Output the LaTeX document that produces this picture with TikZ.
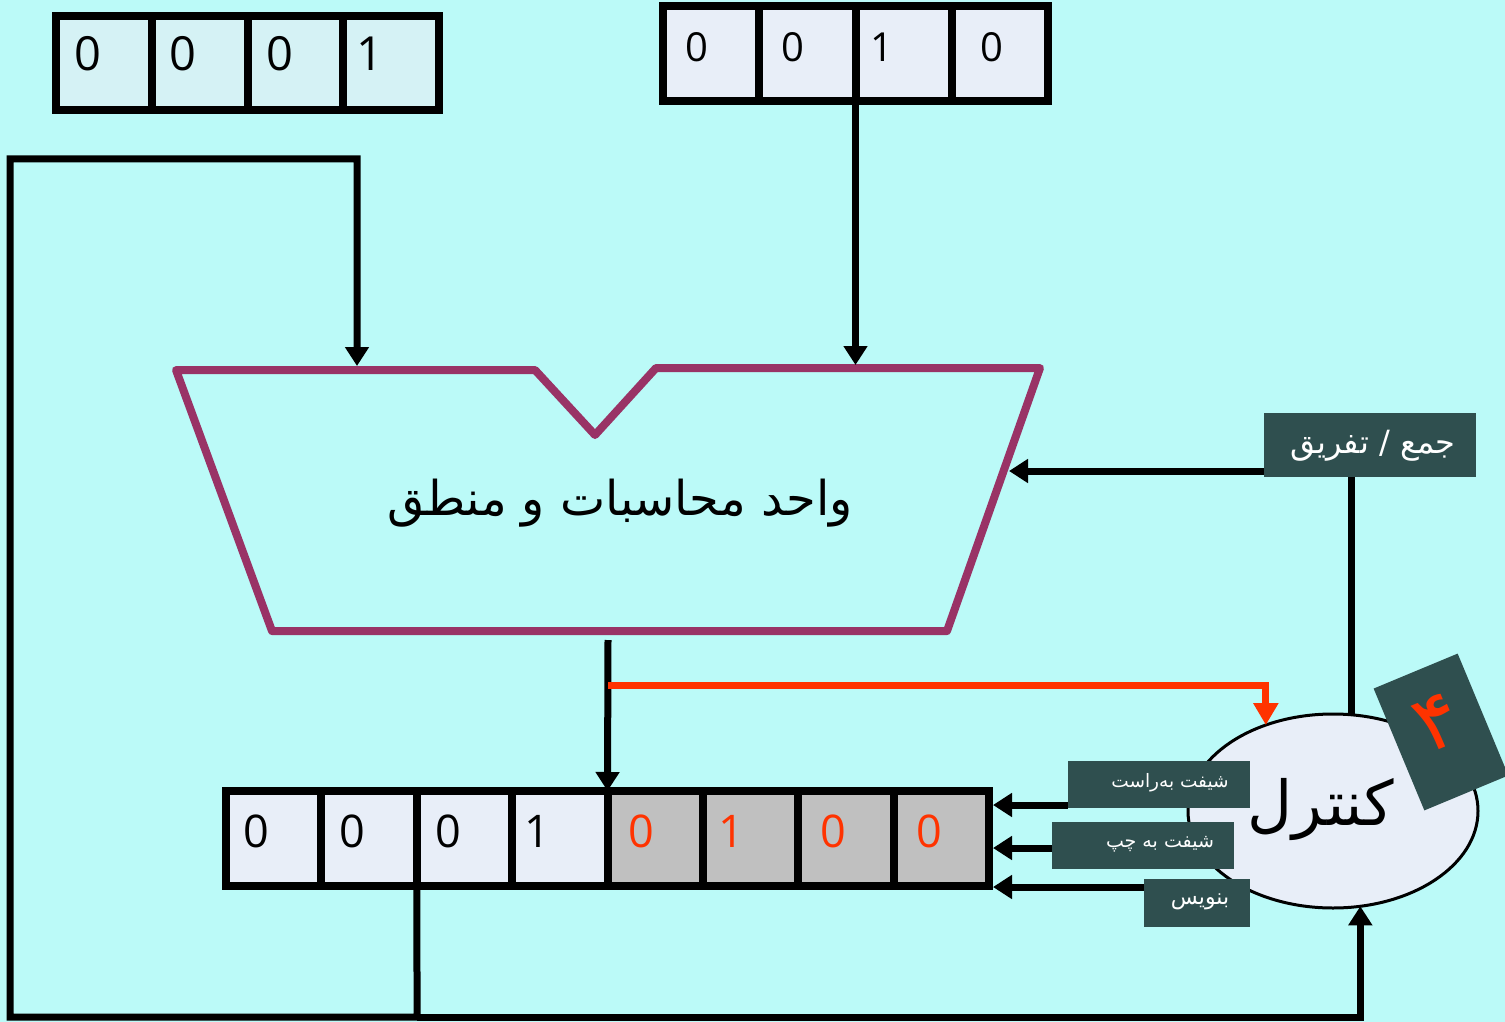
\documentclass[tikz,border=0pt]{standalone}
\usepackage{fontspec}
\usetikzlibrary{arrows.meta,shapes.geometric}
\setmainfont{Open Sans}
\newfontfamily\fa[Script=Arabic]{DejaVu Sans}
\TeXXeTstate=1
\definecolor{bgc}{RGB}{187,250,248}
\definecolor{cellA}{RGB}{213,242,245}
\definecolor{cellB}{RGB}{232,238,248}
\definecolor{cellG}{RGB}{192,192,192}
\definecolor{aluc}{RGB}{153,51,102}
\definecolor{redc}{RGB}{255,51,0}
\definecolor{slate}{RGB}{47,79,79}
\begin{document}
\begin{tikzpicture}[x=1pt,y=-1pt,
  line/.style={line width=7pt,line join=miter},
  wire/.style={line width=7pt,line join=miter,-{Triangle[width=23pt,length=19pt]}},
  redwire/.style={line width=7pt,draw=redc,-{Triangle[width=24pt,length=22pt]}},
  tlcell/.style={draw=black,line width=8pt,fill=cellA,minimum width=95.75pt,minimum height=94pt,inner sep=0pt,outer sep=0pt},
  trcell/.style={draw=black,line width=8pt,fill=cellB,minimum width=96.25pt,minimum height=95pt,inner sep=0pt,outer sep=0pt},
  rcell/.style={draw=black,line width=8pt,minimum width=95.375pt,minimum height=95pt,inner sep=0pt,outer sep=0pt},
  digit/.style={inner sep=0pt},
  lbl/.style={fill=slate,inner sep=0pt},
  lbltext/.style={text=white,inner sep=0pt},
  alubody/.style={draw=aluc,line width=8pt,line join=round}
]
\useasboundingbox (0,0) rectangle (1505,1022);
\clip (0,0) rectangle (1505,1022);
\fill[bgc] (0,0) rectangle (1505,1022);

% top-left register
\foreach \d/\x [count=\i] in {0/88,0/183,0/280,1/370}{
  \node[tlcell] (tl\i) at ({56+95.75*(\i-0.5)},63) {};
  \node[digit,font=\fontsize{47}{47}\selectfont] (tld\i) at (\x,54) {\d};
}
% top-right register
\foreach \d/\x [count=\i] in {0/697,0/793,1/882,0/992}{
  \node[trcell] (tr\i) at ({663+96.25*(\i-0.5)},53.5) {};
  \node[digit,font=\fontsize{40}{40}\selectfont] (trd\i) at (\x,47) {\d};
}
% bottom register
\foreach \d/\x/\f/\c [count=\i] in {0/256/cellB/black,0/352/cellB/black,0/448/cellB/black,1/537/cellB/black,0/641/cellG/redc,1/731/cellG/redc,0/833/cellG/redc,0/929/cellG/redc}{
  \node[rcell,fill=\f] (r\i) at ({226+95.375*(\i-0.5)},838.5) {};
  \node[digit,text=\c,font=\fontsize{45}{45}\selectfont] (rd\i) at (\x,831) {\d};
}

% ALU
\coordinate (a1) at (176,370);
\coordinate (a2) at (535,370);
\coordinate (a3) at (595,435);
\coordinate (a4) at (656,368);
\coordinate (a5) at (1040,368);
\coordinate (a6) at (947,631);
\coordinate (a7) at (272,631);
\draw[alubody] (a1) -- (a2) -- (a3) -- (a4) -- (a5) -- (a6) -- (a7) -- cycle;
\node (alutext) at (620,503) {\fa\fontsize{48}{54}\selectfont\beginR واحد محاسبات و منطق\endR};

\coordinate (inA) at (357,366);
\coordinate (inB) at (855.5,365);
\coordinate (aluR) at (1009,471);
\coordinate (aluOut) at (608,640);
\coordinate (tap) at (608,685);

% control
\node[draw,ellipse,line width=3pt,fill=cellB,minimum width=290pt,minimum height=194pt,inner sep=0pt,outer sep=0pt] (ctrl) at (1333,811) {};
\node (ctrltext) at (1321,810) {\fa\fontsize{62}{70}\selectfont\beginR کنترل\endR};

% wires
\draw[wire] (tr2.south east) -- (inB);
\coordinate (botA) at (417.125,1017);
\coordinate (loopBL) at (10,1017);
\coordinate (loopTL) at (10,159);
\coordinate (loopTR) at (357,159);
\draw[wire] (r2.south east) -- (botA) -- (loopBL) -- (loopTL) -- (loopTR) -- (inA);
\draw[wire] (botA) -| (ctrl.-74);
\draw[wire] (aluOut) -- (r4.north east);
\draw[redwire] (tap) -| (ctrl.128);

% labels
\node[lbl,minimum width=212pt,minimum height=64pt] (L0) at (1370,445) {};
\node[lbltext] (L0t) at (1373,446) {\fa\fontsize{32}{36}\selectfont\beginR جمع / تفریق\endR};
\node[lbl,minimum width=182pt,minimum height=47pt] (L1) at (1159,784.5) {};
\node[lbltext] (L1t) at (1170,783) {\fa\fontsize{18.5}{22}\selectfont\beginR شیفت به‌راست\endR};
\node[lbl,minimum width=182pt,minimum height=47pt] (L2) at (1143,845.5) {};
\node[lbltext] (L2t) at (1160,844) {\fa\fontsize{19}{22}\selectfont\beginR شیفت به چپ\endR};
\node[lbl,minimum width=106pt,minimum height=48pt] (L3) at (1197,903) {};
\node[lbltext] (L3t) at (1200,902) {\fa\fontsize{22}{26}\selectfont\beginR بنویس\endR};

\coordinate (xv) at (1351,0);
\draw[line] (xv |- L0.south) -- (xv |- ctrl.north);
\draw[wire] (L0.west |- aluR) -- (aluR);

\coordinate (regR) at (993,0);
\coordinate (y1) at (0,805);
\coordinate (y2) at (0,848);
\coordinate (y3) at (0,887);
\draw[wire] (L1.west |- y1) -- (regR |- y1);
\draw[wire] (L2.west |- y2) -- (regR |- y2);
\draw[wire] (L3.west |- y3) -- (regR |- y3);

% rotated tag
\node[fill=slate,rotate=22.6,minimum width=91pt,minimum height=132pt,inner sep=0pt] (four) at (1441,732) {};
\node[rotate=22.6,text=redc,inner sep=0pt] (fourt) at (1437,722) {\fa\fontsize{80}{90}\selectfont ۴};
\end{tikzpicture}
\end{document}
